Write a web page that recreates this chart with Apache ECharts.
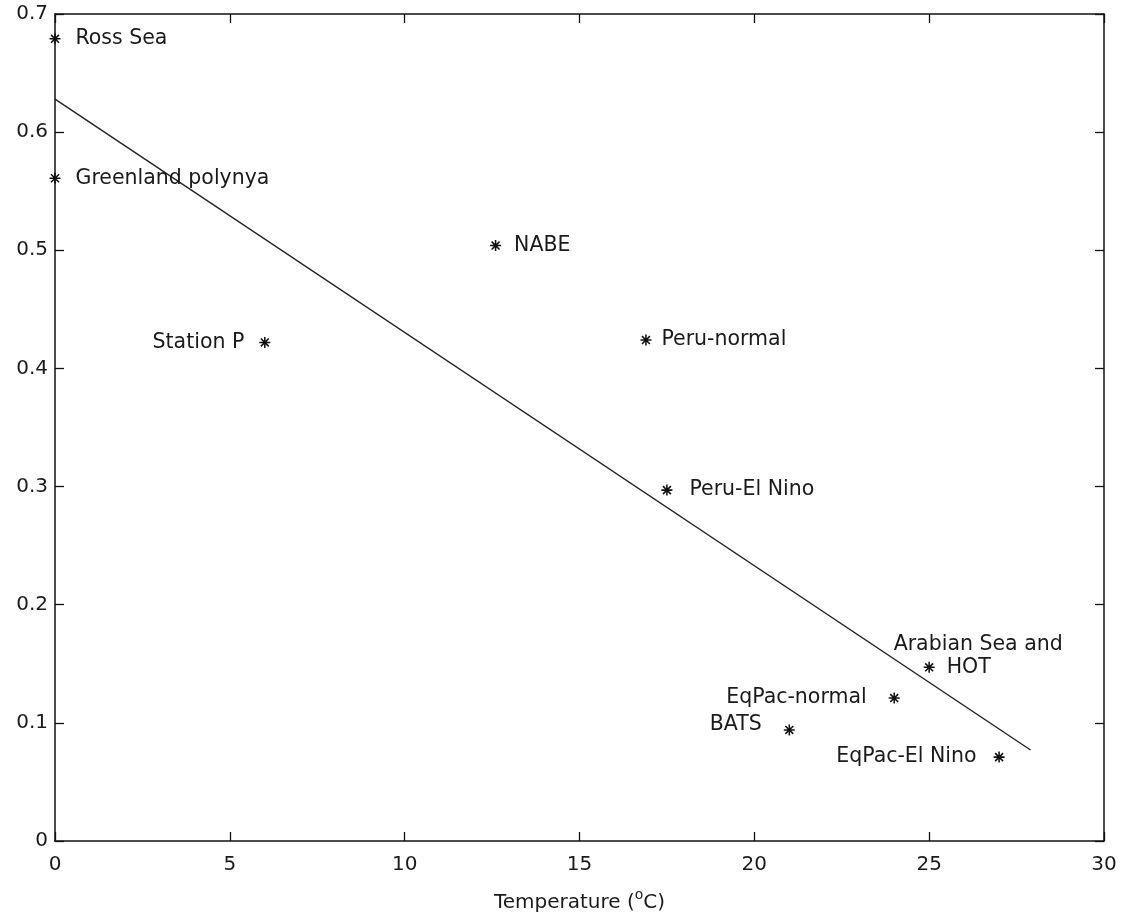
<!DOCTYPE html>
<html>
<head>
<meta charset="utf-8">
<script src="https://cdn.jsdelivr.net/npm/echarts@6/dist/echarts.min.js"></script>
<style>
html,body{margin:0;padding:0;background:#fff;}
#chart{width:1125px;height:916px;}
</style>
</head>
<body>
<div id="chart"></div>
<script>
// ---- data ----
const siteNames = ["Ross Sea","Greenland polynya","Station P","NABE","Peru-normal","Peru-El Nino","Arabian Sea and\nHOT","EqPac-normal","BATS","EqPac-El Nino"];
const temperature = [0, 0, 6.0, 12.6, 16.9, 17.5, 25.0, 24.0, 21.0, 27.0];
const ratio = [0.679, 0.561, 0.422, 0.504, 0.424, 0.297, 0.147, 0.121, 0.094, 0.071];
const fitX = [0, 27.9];
const fitY = [0.628, 0.077];
const xTicks = [0, 5, 10, 15, 20, 25, 30];
const yTicks = [0, 0.1, 0.2, 0.3, 0.4, 0.5, 0.6, 0.7];

// ---- styling / layout ----
const FONT = "DejaVu Sans";
const TXT = "#1a1a1a";
const LFS = 20.5;
const labelLayout = {
  "Ross Sea": {position: "right", distance: 15},
  "Greenland polynya": {position: "right", distance: 15},
  "Station P": {position: "left", distance: 15},
  "NABE": {position: "right", distance: 13},
  "Peru-normal": {position: "right", distance: 10},
  "Peru-El Nino": {position: "right", distance: 17},
  "EqPac-normal": {position: "left", distance: 22},
  "BATS": {position: "left", distance: 22, offset: [0, -5]},
  "EqPac-El Nino": {position: "left", distance: 17}
};

const asterisk = "path://M0 4.3H10V5.7H0Z M4.3 0H5.7V10H4.3Z M0.9 1.9L1.9 0.9L9.1 8.1L8.1 9.1Z M0.9 8.1L8.1 0.9L9.1 1.9L1.9 9.1Z";

const scatterData = siteNames.map((n, i) => {
  const item = {name: n, value: [temperature[i], ratio[i]]};
  if (labelLayout[n]) {
    item.label = Object.assign({show: true, formatter: n, fontFamily: FONT, fontSize: LFS, color: TXT}, labelLayout[n]);
  } else {
    // Arabian Sea and / HOT
    item.label = {
      show: true, position: "right", distance: 0, offset: [-41, -11],
      formatter: "{a|Arabian Sea and}\n{b|HOT}",
      rich: {
        a: {fontFamily: FONT, fontSize: LFS, color: TXT, lineHeight: 23},
        b: {fontFamily: FONT, fontSize: LFS, color: TXT, lineHeight: 23, padding: [0, 0, 0, 53]}
      }
    };
  }
  return item;
});

const axisCommon = {
  type: "value",
  axisLine: {show: true, onZero: false, lineStyle: {color: "#111", width: 1.5}},
  axisTick: {show: true, inside: true, length: 9, lineStyle: {color: "#111", width: 1.3}},
  splitLine: {show: false},
  minorTick: {show: false}
};

const chart = echarts.init(document.getElementById("chart"));
chart.setOption({
  backgroundColor: "#fff",
  animation: false,
  grid: {left: 55, right: 21, top: 14, bottom: 75, containLabel: false, outerBoundsMode: "none"},
  xAxis: [
    Object.assign({}, axisCommon, {
      position: "bottom", min: xTicks[0], max: xTicks[xTicks.length - 1], interval: 5,
      axisLabel: {show: true, margin: 14, fontFamily: FONT, fontSize: 20, color: TXT},
      name: "{t|Temperature (}{s|o}{t|C)}",
      nameLocation: "middle", nameGap: 47,
      nameTextStyle: {
        rich: {
          t: {fontFamily: FONT, fontSize: 20, color: TXT},
          s: {fontFamily: FONT, fontSize: 14, color: TXT, padding: [0, 0, 16, 0]}
        }
      }
    }),
    Object.assign({}, axisCommon, {
      position: "top", min: xTicks[0], max: xTicks[xTicks.length - 1], interval: 5,
      axisLabel: {show: false}
    })
  ],
  yAxis: [
    Object.assign({}, axisCommon, {
      position: "left", min: yTicks[0], max: yTicks[yTicks.length - 1], interval: 0.1,
      axisLabel: {show: true, margin: 7, fontFamily: FONT, fontSize: 20, color: TXT,
        formatter: v => (Math.round(v * 10) / 10).toString()}
    }),
    Object.assign({}, axisCommon, {
      position: "right", min: yTicks[0], max: yTicks[yTicks.length - 1], interval: 0.1,
      axisLabel: {show: false}
    })
  ],
  series: [
    {
      type: "line",
      data: fitX.map((x, i) => [x, fitY[i]]),
      symbol: "none",
      lineStyle: {color: "#222", width: 1.4},
      z: 2
    },
    {
      type: "scatter",
      data: scatterData,
      symbol: asterisk,
      symbolSize: 11,
      itemStyle: {color: "#111", opacity: 1},
      z: 3
    }
  ]
});
</script>
</body>
</html>
